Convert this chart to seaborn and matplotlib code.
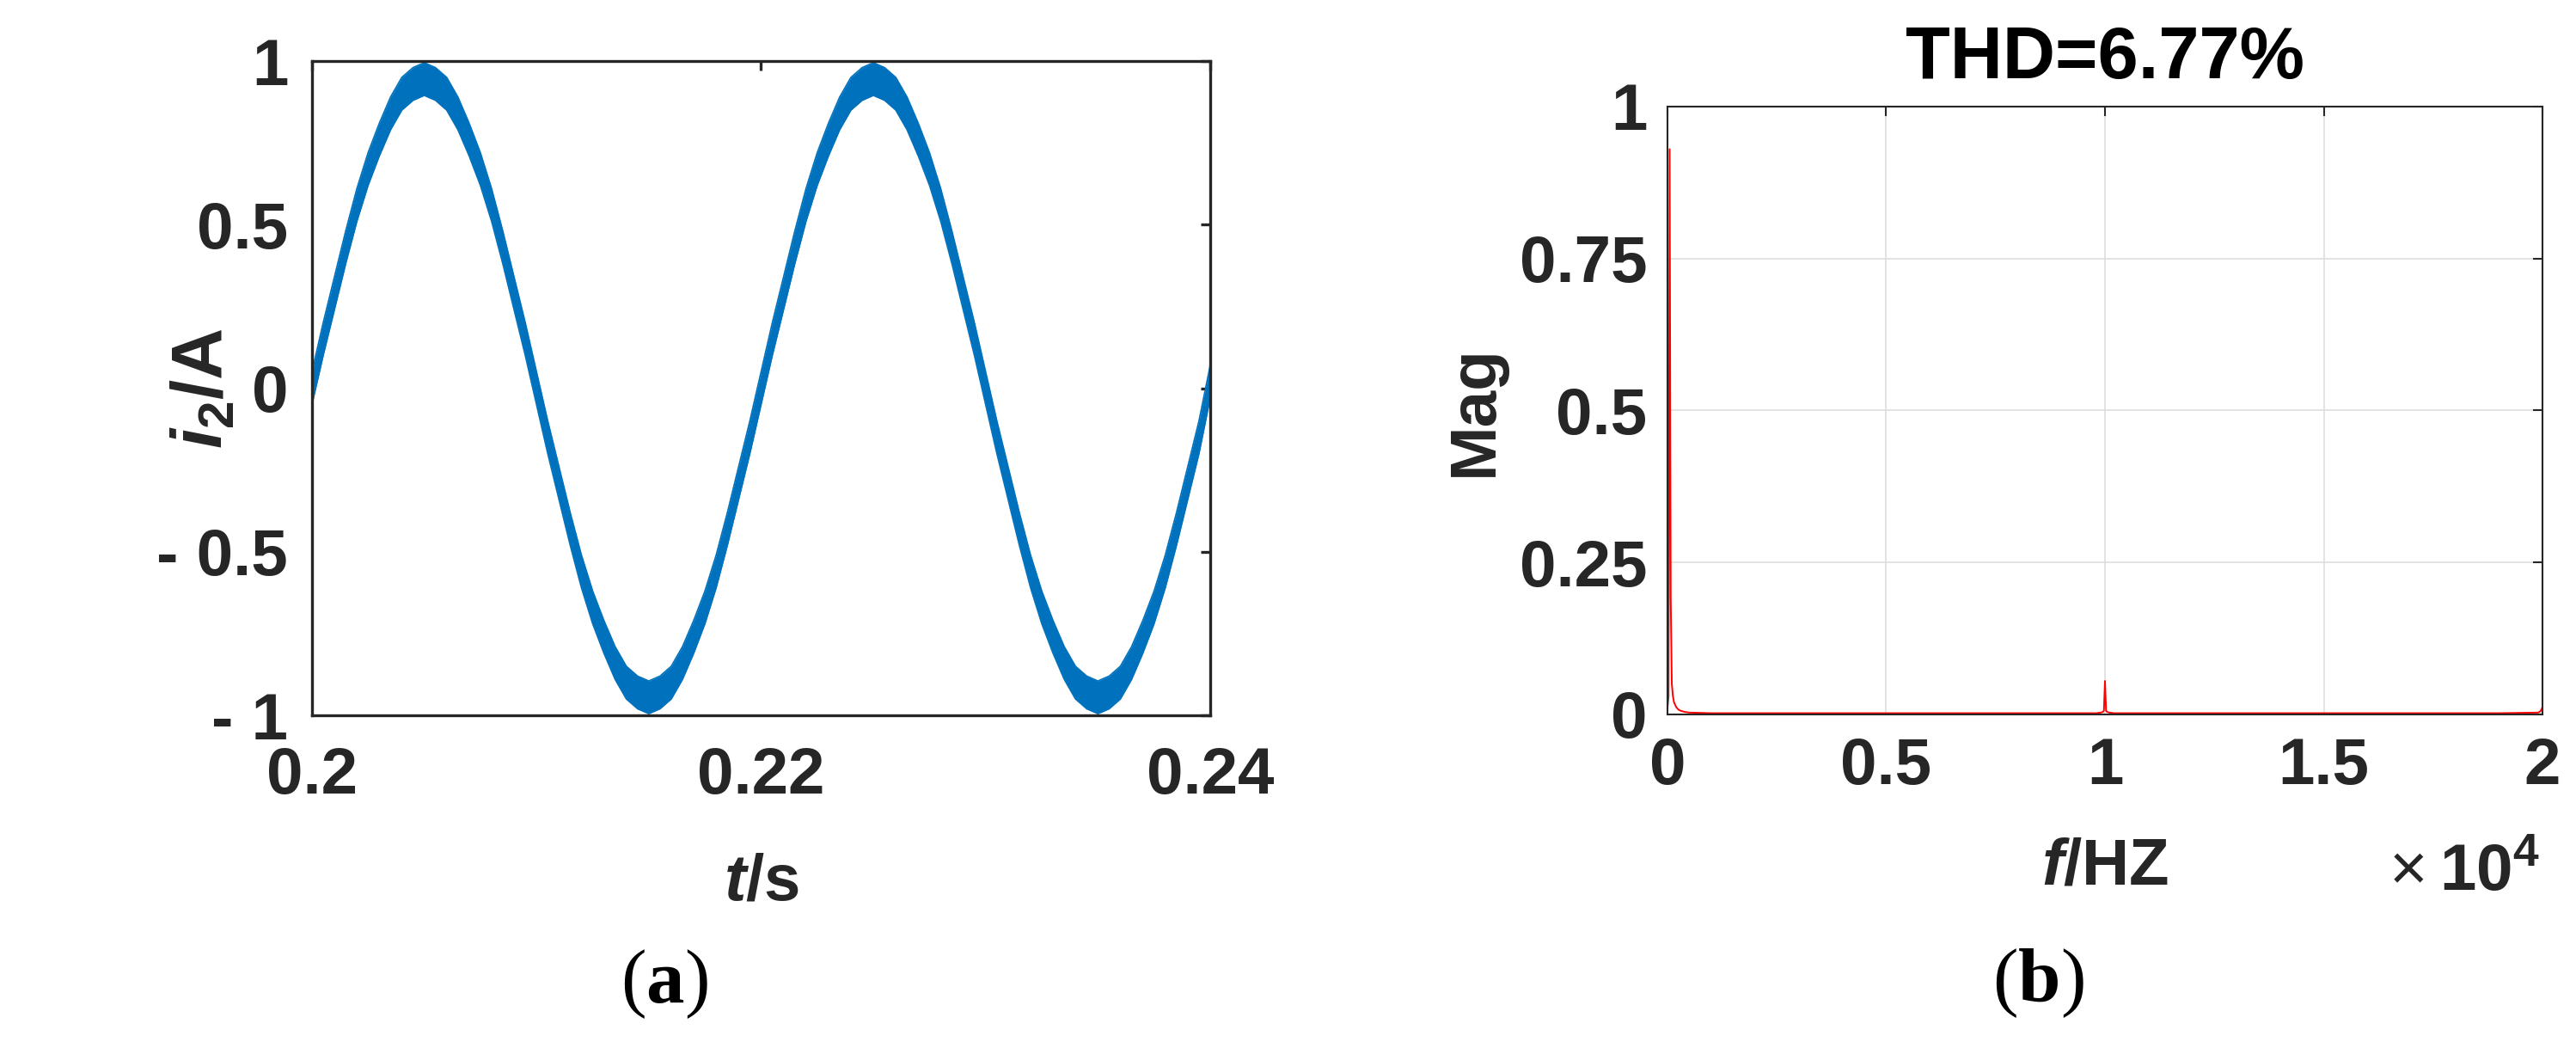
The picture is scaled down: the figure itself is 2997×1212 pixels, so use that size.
# Output current i2 (with switching ripple) and its spectrum, THD = 6.77 %

import numpy as np
import pandas as pd
import matplotlib
matplotlib.use("Agg")
import matplotlib.pyplot as plt
import seaborn as sns

# ================================
# DATA
# ================================

# (a) sample times, 0.5 ms apart, 0.2 s .. 0.24 s
t_s = np.round(np.arange(0.2, 0.24001, 0.0005), 4)

# centre of the current band, A
i2_mid = [
    0.00, 0.15, 0.29, 0.43, 0.56, 0.67, 0.76, 0.84, 0.90, 0.93,
    0.945, 0.93, 0.90, 0.84, 0.76, 0.67, 0.56, 0.43, 0.29, 0.15,
    0.00, -0.15, -0.29, -0.43, -0.56, -0.67, -0.76, -0.84, -0.90, -0.93,
    -0.945, -0.93, -0.90, -0.84, -0.76, -0.67, -0.56, -0.43, -0.29, -0.15,
    0.00, 0.15, 0.29, 0.43, 0.56, 0.67, 0.76, 0.84, 0.90, 0.93,
    0.945, 0.93, 0.90, 0.84, 0.76, 0.67, 0.56, 0.43, 0.29, 0.15,
    0.00, -0.15, -0.29, -0.43, -0.56, -0.67, -0.76, -0.84, -0.90, -0.93,
    -0.945, -0.93, -0.90, -0.84, -0.76, -0.67, -0.56, -0.43, -0.29, -0.15,
    0.02,
]
# half height of the high-frequency ripple band, A
ripple_amp = 0.05

t_ticks = [0.2, 0.22, 0.24]
t_labels = ["0.2", "0.22", "0.24"]
i_ticks = [-1, -0.5, 0, 0.5, 1]
i_labels = ["- 1", "- 0.5", "0", "0.5", "1"]

# (b) spectrum
freq_hz = [0, 25, 50, 75, 100, 125, 150, 200, 250, 300, 400, 500,
           1000, 3000, 5000, 7000, 9000, 9800, 9900, 9950, 9975,
           10000, 10025, 10050, 10100, 10200, 11000, 13000, 15000,
           17000, 19000, 19900, 19950, 19975, 20000]
mag = [0.01, 0.03, 0.93, 0.19, 0.05, 0.03, 0.02, 0.012, 0.008, 0.006, 0.004, 0.003,
       0.002, 0.002, 0.002, 0.002, 0.002, 0.002, 0.003, 0.004, 0.006,
       0.055, 0.006, 0.004, 0.003, 0.002, 0.002, 0.002, 0.002,
       0.002, 0.002, 0.003, 0.005, 0.008, 0.012]

f_ticks = [0, 5000, 10000, 15000, 20000]
f_labels = ["0", "0.5", "1", "1.5", "2"]
m_ticks = [0, 0.25, 0.5, 0.75, 1]
m_labels = ["0", "0.25", "0.5", "0.75", "1"]

# ================================
# STYLE
# ================================

sns.set_style("white")
plt.rcParams["font.family"] = ["Liberation Sans", "DejaVu Sans"]
plt.rcParams["font.weight"] = "bold"
plt.rcParams["axes.labelweight"] = "bold"
plt.rcParams["mathtext.fontset"] = "custom"
plt.rcParams["mathtext.rm"] = "Liberation Sans:bold"
plt.rcParams["mathtext.it"] = "Liberation Sans:italic:bold"
plt.rcParams["mathtext.bf"] = "Liberation Serif:bold"

ink = "#262626"
blue = "#0072BD"
fs = 55

fig = plt.figure(figsize=(29.97, 12.12), dpi=100)
ax1 = fig.add_axes([0.1211, 0.3135, 0.3487, 0.6279])
ax2 = fig.add_axes([0.6473, 0.3144, 0.3397, 0.5833])

# ================================
# (a) TIME DOMAIN
# ================================

df_a = pd.DataFrame({"t": t_s, "mid": i2_mid})
df_a["upper"] = df_a["mid"] + ripple_amp
df_a["lower"] = df_a["mid"] - ripple_amp

sns.lineplot(data=df_a, x="t", y="upper", color=blue, lw=1.2, ax=ax1)
sns.lineplot(data=df_a, x="t", y="lower", color=blue, lw=1.2, ax=ax1)
ax1.fill_between(df_a["t"], df_a["lower"], df_a["upper"], color=blue, lw=0)

ax1.set_xlim(0.2, 0.24)
ax1.set_ylim(-1, 1)
ax1.set_xticks(t_ticks, labels=t_labels)
ax1.set_yticks(i_ticks, labels=i_labels)
ax1.tick_params(direction="in", length=8, width=2.4, top=True, right=True,
                labelsize=fs, labelcolor=ink, color=ink)
ax1.tick_params(axis="x", pad=26)
ax1.tick_params(axis="y", pad=20)
for sp in ax1.spines.values():
    sp.set_linewidth(2.4)
    sp.set_color(ink)

ax1.set_xlabel(r"$t$/s", fontsize=fs, color=ink)
ax1.set_ylabel(r"$i_{2}$/A", fontsize=60, color=ink)
ax1.xaxis.set_label_coords(0.5, -0.21)
ax1.yaxis.set_label_coords(-0.082, 0.5)

# ================================
# (b) SPECTRUM
# ================================

df_b = pd.DataFrame({"f": freq_hz, "mag": mag})
sns.lineplot(data=df_b, x="f", y="mag", color="red", lw=1.4, ax=ax2)

ax2.set_xlim(0, 20000)
ax2.set_ylim(0, 1)
ax2.set_xticks(f_ticks, labels=f_labels)
ax2.set_yticks(m_ticks, labels=m_labels)
ax2.grid(True, color="#dedede", lw=1.2)
ax2.set_axisbelow(True)
ax2.tick_params(direction="in", length=8, width=1.5, top=True, right=True,
                labelsize=fs, labelcolor=ink, color=ink)
ax2.tick_params(axis="x", pad=19)
ax2.tick_params(axis="y", pad=17)
for sp in ax2.spines.values():
    sp.set_linewidth(1.5)
    sp.set_color(ink)

ax2.set_title("THD=6.77%", fontsize=61, fontweight="bold", color="black", pad=24)
ax2.set_xlabel(r"$f$/HZ", fontsize=fs, color=ink)
ax2.set_ylabel("Mag", fontsize=fs, color=ink)
ax2.xaxis.set_label_coords(0.5, -0.201)
ax2.yaxis.set_label_coords(-0.185, 0.5)

# exponent of the frequency axis
ax2.text(0.825, -0.262, "\u00d7", transform=ax2.transAxes, ha="left", va="center",
         fontsize=fs, fontweight="normal", color=ink)
ax2.text(0.997, -0.262, r"$\mathrm{10}^{4}$", transform=ax2.transAxes,
         ha="right", va="center", fontsize=fs, color=ink)

# panel captions
fig.text(773 / 2997, 1 - 1145 / 1212, r"($\mathbf{a}$)", family="Liberation Serif",
         fontweight="normal", fontsize=64, ha="center", va="center", color="black")
fig.text(2371 / 2997, 1 - 1144 / 1212, r"($\mathbf{b}$)", family="Liberation Serif",
         fontweight="normal", fontsize=64, ha="center", va="center", color="black")

fig.savefig("out.png", dpi=100)
